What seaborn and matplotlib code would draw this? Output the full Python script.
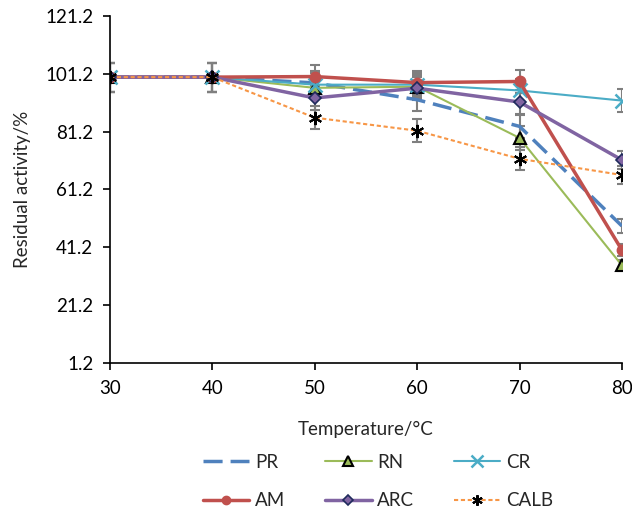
import numpy as np
import pandas as pd
import matplotlib
matplotlib.use("Agg")
import matplotlib.pyplot as plt
import seaborn as sns
from matplotlib.lines import Line2D

temps = [30, 40, 50, 60, 70, 80]
PR = [100.0, 100.0, 98.0, 92.2, 83.0, 48.6]
RN = [100.0, 100.0, 96.3, 96.7, 79.0, 35.0]
CR = [100.0, 100.0, 97.4, 97.4, 95.4, 91.9]
AM = [100.0, 100.0, 100.2, 98.1, 98.5, 40.3]
ARC = [100.0, 100.0, 92.8, 96.2, 91.4, 71.4]
CALB = [100.0, 100.0, 86.0, 81.5, 71.8, 66.2]

PR_err = [5.0, 5.0, 4.0, 4.0, 4.0, 2.4]
RN_err = [5.0, 5.0, 4.0, 4.0, 4.0, 2.0]
CR_err = [5.0, 5.0, 4.0, 4.0, 4.0, 4.0]
AM_err = [5.0, 5.0, 4.0, 4.0, 4.0, 2.0]
ARC_err = [5.0, 5.0, 4.0, 4.0, 4.0, 3.0]
CALB_err = [5.0, 5.0, 4.0, 4.0, 4.0, 3.0]

y_ticks = [1.2, 21.2, 41.2, 61.2, 81.2, 101.2, 121.2]
x_ticks = [30, 40, 50, 60, 70, 80]

sns.set_style("ticks")
plt.rcParams['font.family'] = ['Lato', 'DejaVu Sans']
FS = 13.5

fig = plt.figure(figsize=(6.32, 5.08), dpi=100)
ax = fig.add_axes([0.174, 0.285, 0.81, 0.684])

ast = (6, 2, 0)
series = [
    ("PR", PR, PR_err, dict(color="#4F81BD", lw=2.5, dashes=(5.5, 2.3), marker=None)),
    ("RN", RN, RN_err, dict(color="#9BBB59", lw=1.5, marker="^", ms=9, mfc="#9BBB59", mec="black", mew=1.5)),
    ("CR", CR, CR_err, dict(color="#4BACC6", lw=1.5, marker="x", ms=10, mec="#4BACC6", mew=1.8)),
    ("AM", AM, AM_err, dict(color="#C0504D", lw=2.5, marker="o", ms=7.5, mfc="#C0504D", mec="#C0504D")),
    ("ARC", ARC, ARC_err, dict(color="#8064A2", lw=2.5, marker="D", ms=6.5, mfc="#8064A2", mec="#1F2A5C", mew=1.2)),
    ("CALB", CALB, CALB_err, dict(color="#F79646", lw=1.5, dashes=(2.0, 1.3), marker=ast, ms=9.5, mec="black", mew=1.5)),
]

handles = {}
for i, (name, vals, errs, st) in enumerate(series):
    df = pd.DataFrame({"T": temps, "v": vals})
    ax.errorbar(temps, vals, yerr=errs, fmt="none", ecolor="#7F7F7F", elinewidth=1.5,
                capsize=3.5, capthick=1.5, zorder=2 + i * 0.01)
    kw = dict(color=st["color"], linewidth=st["lw"])
    if st.get("marker") is not None:
        kw.update(marker=st["marker"], markersize=st["ms"],
                  markeredgecolor=st.get("mec", st["color"]),
                  markeredgewidth=st.get("mew", 1.0))
        if "mfc" in st:
            kw["markerfacecolor"] = st["mfc"]
    sns.lineplot(data=df, x="T", y="v", ax=ax, zorder=3 + i * 0.1, **kw)
    line = ax.lines[-1]
    if "dashes" in st:
        line.set_dashes(st["dashes"])
    h = Line2D([0], [0], **{k: v for k, v in kw.items()})
    if "dashes" in st:
        h.set_dashes(st["dashes"])
    handles[name] = h

ax.set_xlim(30, 80)
ax.set_ylim(1.2, 121.2)
ax.set_xticks(x_ticks)
ax.set_yticks(y_ticks)
ax.set_yticklabels([f"{t:.1f}" for t in y_ticks])
ax.tick_params(axis="both", labelsize=FS, direction="out", length=5, width=1.2, colors="black")
ax.tick_params(axis="x", pad=7)
ax.tick_params(axis="y", pad=7)
for s in ["top", "right"]:
    ax.spines[s].set_visible(False)
for s in ["left", "bottom"]:
    ax.spines[s].set_linewidth(1.2)
    ax.spines[s].set_color("black")
ax.set_xlabel("Temperature/°C", fontsize=FS, labelpad=17)
ax.set_ylabel("Residual activity/%", fontsize=FS, labelpad=10)

order = ["PR", "AM", "RN", "ARC", "CR", "CALB"]
fig.legend([handles[n] for n in order], order, loc="center", ncol=3,
           bbox_to_anchor=(0.598, 0.052), frameon=False, fontsize=FS,
           handlelength=2.5, columnspacing=2.1, labelspacing=1.15, handletextpad=0.3,
           markerscale=0.8)

fig.savefig("out.png", dpi=100)
